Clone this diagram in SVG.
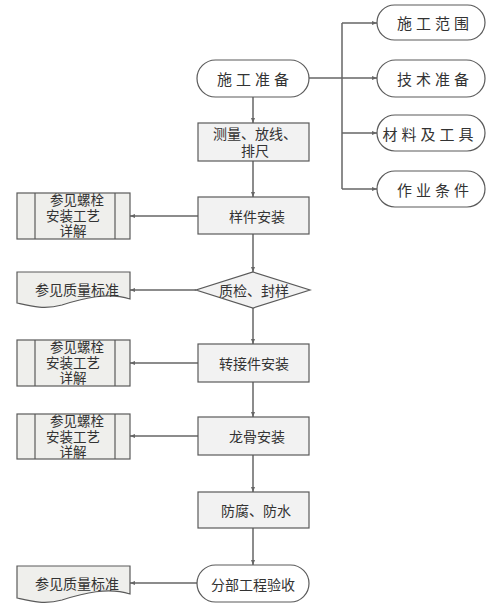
<svg xmlns="http://www.w3.org/2000/svg" width="489" height="606" viewBox="0 0 489 606">
<style>
.box{fill:#f2f2f2;stroke:#5a5a5a;stroke-width:1.2}
.stad{fill:#ffffff;stroke:#5a5a5a;stroke-width:1.2}
.side{fill:#efefec;stroke:#5a5a5a;stroke-width:1.2}
.ln{fill:none;stroke:#666;stroke-width:1.5}
.div{stroke:#5a5a5a;stroke-width:1.2}
text{font-family:"Noto Sans CJK SC","Noto Sans",sans-serif;font-size:14px;fill:#333;text-anchor:middle;dominant-baseline:central}
.wide{font-size:15px;letter-spacing:4px}
.ml{font-family:"Liberation Sans","Noto Sans CJK SC",sans-serif}
.ml2{font-family:"Liberation Sans","Noto Sans CJK SC",sans-serif;font-size:13.5px}
</style>
<defs>
<marker id="ar" viewBox="0 0 10 10" refX="10" refY="5" markerWidth="5" markerHeight="5" orient="auto" markerUnits="userSpaceOnUse">
<path d="M0,1 L10,5 L0,9 Z" fill="#666"/>
</marker>
</defs>
<rect width="489" height="606" fill="#ffffff"/>
<g id="connectors">
<line class="ln" x1="253" y1="97" x2="253" y2="123" marker-end="url(#ar)"/>
<line class="ln" x1="253" y1="161" x2="253" y2="197" marker-end="url(#ar)"/>
<line class="ln" x1="253" y1="234" x2="253" y2="272" marker-end="url(#ar)"/>
<line class="ln" x1="253" y1="308" x2="253" y2="344" marker-end="url(#ar)"/>
<line class="ln" x1="253" y1="382" x2="253" y2="417" marker-end="url(#ar)"/>
<line class="ln" x1="253" y1="455" x2="253" y2="492" marker-end="url(#ar)"/>
<line class="ln" x1="253" y1="528" x2="253" y2="565" marker-end="url(#ar)"/>
<line class="ln" x1="198" y1="216" x2="130" y2="216" marker-end="url(#ar)"/>
<line class="ln" x1="196" y1="290" x2="130" y2="290" marker-end="url(#ar)"/>
<line class="ln" x1="198" y1="363" x2="130" y2="363" marker-end="url(#ar)"/>
<line class="ln" x1="198" y1="436" x2="130" y2="436" marker-end="url(#ar)"/>
<line class="ln" x1="197" y1="583" x2="130" y2="583" marker-end="url(#ar)"/>
<line class="ln" x1="309" y1="78" x2="342" y2="78"/>
<line class="ln" x1="342" y1="23" x2="342" y2="189"/>
<line class="ln" x1="342" y1="23" x2="377" y2="23" marker-end="url(#ar)"/>
<line class="ln" x1="342" y1="78" x2="377" y2="78" marker-end="url(#ar)"/>
<line class="ln" x1="342" y1="133" x2="377" y2="133" marker-end="url(#ar)"/>
<line class="ln" x1="342" y1="189" x2="377" y2="189" marker-end="url(#ar)"/>
</g>
<g id="n1"><rect class="stad" x="197" y="60" width="112" height="37" rx="18.5"/><text class="wide" x="255" y="78.5">施工准备</text></g>
<g id="n2"><rect class="box" x="198" y="123" width="111" height="38"/><text class="ml" x="255" y="134">测量、放线、</text><text class="ml" x="255" y="151">排尺</text></g>
<g id="n3"><rect class="box" x="198" y="197" width="111" height="37"/><text x="257" y="215.5">样件安装</text></g>
<g id="n4"><polygon class="box" points="253,272 310,290 253,308 196,290"/><text x="254" y="290">质检、封样</text></g>
<g id="n5"><rect class="box" x="198" y="344" width="111" height="38"/><text x="254" y="363">转接件安装</text></g>
<g id="n6"><rect class="box" x="198" y="417" width="111" height="38"/><text x="257" y="436">龙骨安装</text></g>
<g id="n7"><rect class="box" x="198" y="492" width="111" height="36"/><text x="256" y="510">防腐、防水</text></g>
<g id="n8"><rect class="stad" x="197" y="565" width="112" height="37" rx="18.5"/><text x="253" y="583.5">分部工程验收</text></g>
<g id="r1"><rect class="stad" x="377" y="5" width="108" height="35" rx="17.5"/><text class="wide" x="435" y="22.5">施工范围</text></g>
<g id="r2"><rect class="stad" x="377" y="60" width="108" height="37" rx="18.5"/><text class="wide" x="435" y="78.5">技术准备</text></g>
<g id="r3"><rect class="stad" x="377" y="115" width="108" height="36" rx="18"/><text class="wide" x="430" y="133">材料及工具</text></g>
<g id="r4"><rect class="stad" x="377" y="171" width="108" height="36" rx="18"/><text class="wide" x="435" y="189">作业条件</text></g>
<g id="l1"><rect class="side" x="17" y="193" width="113" height="46"/><line class="div" x1="35" y1="193" x2="35" y2="239"/><line class="div" x1="115" y1="193" x2="115" y2="239"/><text class="ml2" x="77" y="200.5">参见螺栓</text><text class="ml2" x="73" y="216">安装工艺</text><text class="ml2" x="73" y="231.5">详解</text></g>
<g id="l2"><path class="side" d="M17,272 H130 V299 C108,292 84,298 62,305 C44,310 30,306 17,303 Z"/><text x="77" y="289">参见质量标准</text></g>
<g id="l3"><rect class="side" x="17" y="340" width="113" height="46"/><line class="div" x1="35" y1="340" x2="35" y2="386"/><line class="div" x1="115" y1="340" x2="115" y2="386"/><text class="ml2" x="77" y="347.5">参见螺栓</text><text class="ml2" x="73" y="363">安装工艺</text><text class="ml2" x="73" y="378.5">详解</text></g>
<g id="l4"><rect class="side" x="17" y="414" width="113" height="45"/><line class="div" x1="35" y1="414" x2="35" y2="459"/><line class="div" x1="115" y1="414" x2="115" y2="459"/><text class="ml2" x="77" y="421.5">参见螺栓</text><text class="ml2" x="73" y="437">安装工艺</text><text class="ml2" x="73" y="452.5">详解</text></g>
<g id="l5"><path class="side" d="M17,566 H130 V594 C108,587 84,593 62,600 C44,605 30,601 17,598 Z"/><text x="77" y="583">参见质量标准</text></g>
</svg>
